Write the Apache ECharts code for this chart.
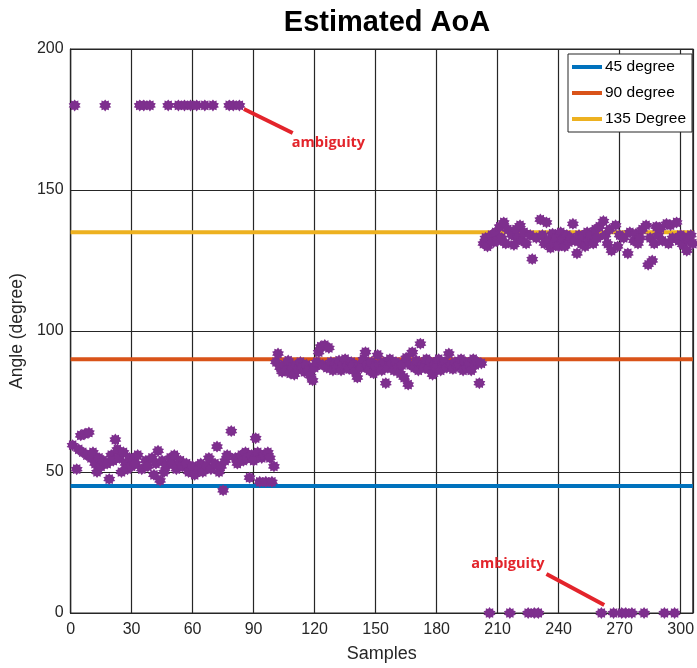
<!DOCTYPE html>
<html>
<head>
<meta charset="utf-8">
<script src="https://cdn.jsdelivr.net/npm/echarts@6/dist/echarts.min.js"></script>
<style>html,body{margin:0;padding:0;background:#fff}#c{width:697px;height:668px}</style>
</head>
<body>
<div id="c"></div>
<script>
// ---- data ----
const xTicks = [0, 30, 60, 90, 120, 150, 180, 210, 240, 270, 300];
const yTicks = [0, 50, 100, 150, 200];
const refNames = ['45 degree', '90 degree', '135 Degree'];
const refValues = [45, 90, 135];
// segment 1: samples 1..100 (180 = ambiguity)
const seg1Start = 1;
const seg1Values = [59.5,180,51,58,63,57,63.5,56,64,55,57,53,50,55,52,54,180,53,47.5,56,
54,61.5,58,55,50,57,53,51,55,52,54,53,56,180,51,180,54,52,180,55,
49,53,57.5,47,54,50,52,180,55,53,56,51,180,54,52,180,53,50,180,52,
49,180,51,53,50,180,52,55,51,180,53,59,50,52,43.5,54,56,180,64.5,180,
55,53,180,56,54,57,55,48,56,54,62,57,46.5,55,56,46.5,57,55,46.5,52];
// segment 2: samples 101..202
const seg2Start = 101;
const seg2Values = [89,92,87,85.5,88,86,89.5,85,87,84.5,88,86.5,89,87,85.5,88,86,84,82.5,87,
89,92.5,94.5,88,95,87,94,89,86,88.5,87,89.5,86,88,90,87.5,86.5,89,88,85.5,
83.5,88,87,90,92.5,88,86,89,85,87.5,91.5,88,86,89,81.5,87,90,88.5,86,89,
87,85,88,83.5,90.5,81,88,92.5,87,89.5,86,95.5,88,87,90,86.5,89,84.5,88,87,
90,86,88.5,89,87,92,88,86.5,89,87.5,88,90,86,89,87,88.5,86,90,88,89,
81.5,88.5];
// segment 3: samples 203..306 (0 = ambiguity)
const seg3Start = 203;
const seg3Values = [131,133,130,0,134,131.5,135,132,137,133,138.5,131,136,0,134,130.5,136,133,137.5,132,
135,131,0,134,125.5,0,133,0,139.5,134,131,138.5,132,129.5,134.5,131,133,130,135,132.5,
130,134,131.5,133,138,132,127.5,134,131,133.5,130,135,132,134,131,136,133,137,0,139,
134,131,136,128.5,0,137.5,130,134,0,133,0,127.5,135,0,132,134.5,131,133,136,0,
137.5,123.5,133,125,131,137,134,136.5,132,0,138,131,137.5,133,0,138.5,132,134,130.5,133,
128.5,132,134,131];
// annotations (data coordinates)
const noteText = 'ambiguity';
const noteLabels = [[126.8, 166.7], [215, 17.4]];
const noteArrows = [[[85.2, 178.7], [109.2, 170.2]], [[234, 13.8], [262.4, 2.8]]];

// ---- build ----
function pts(start, vals) { return vals.map((v, i) => [start + i, v]); }
const scatterData = pts(seg1Start, seg1Values).concat(pts(seg2Start, seg2Values), pts(seg3Start, seg3Values));

// asterisk-like star symbol
function starPath(n, rIn) {
  let d = '';
  for (let i = 0; i < 2 * n; i++) {
    const r = i % 2 === 0 ? 1 : rIn;
    const a = Math.PI * i / n - Math.PI / 2;
    const x = (50 + 50 * r * Math.cos(a)).toFixed(2), y = (50 + 50 * r * Math.sin(a)).toFixed(2);
    d += (i === 0 ? 'M' : 'L') + x + ' ' + y + ' ';
  }
  return 'path://' + d + 'Z';
}

const xMax = 306;
const refColors = ['#0072BD', '#D95319', '#EDB120'];
const FONT = '"Liberation Sans", Arial, sans-serif';
const TXT = '#262626';

const series = refValues.map((v, i) => ({
  name: refNames[i], type: 'line', data: [[0, v], [xMax, v]],
  showSymbol: false, symbol: 'none', silent: true, z: 2,
  lineStyle: { color: refColors[i], width: 4 }, itemStyle: { color: refColors[i] }
}));
series.push({
  name: 'AoA', type: 'scatter', data: scatterData, z: 3,
  symbol: starPath(10, 0.72), symbolSize: 12,
  itemStyle: { color: '#7E2F8E', opacity: 1 }, silent: true,
  markLine: {
    silent: true, symbol: ['none', 'none'], animation: false,
    lineStyle: { color: '#E3242B', width: 4, type: 'solid' }, label: { show: false },
    data: noteArrows.map(a => [{ coord: a[0] }, { coord: a[1] }])
  },
  markPoint: {
    silent: true, animation: false, symbol: 'circle', symbolSize: 1,
    itemStyle: { color: 'rgba(0,0,0,0)' },
    label: { show: true, position: 'inside', formatter: noteText, color: '#E3242B',
      fontWeight: 'bold', fontSize: 14.5, fontFamily: '"Open Sans", sans-serif' },
    data: noteLabels.map(c => ({ coord: c }))
  }
});

const chart = echarts.init(document.getElementById('c'), null, { renderer: 'canvas' });
chart.setOption({
  animation: false,
  backgroundColor: '#fff',
  title: { text: 'Estimated AoA', left: 382, top: 3, textAlign: 'center',
    textStyle: { fontFamily: FONT, fontWeight: 'bold', fontSize: 29, color: '#000' } },
  grid: { left: 69, right: 2, top: 49, bottom: 55, show: true, borderColor: TXT, borderWidth: 1.2, backgroundColor: '#fff' },
  legend: {
    data: refNames, orient: 'vertical', left: 568, top: 54,
    icon: 'rect', itemWidth: 30, itemHeight: 4, itemGap: 8,
    padding: [4, 6, 4, 4], borderColor: TXT, borderWidth: 1, backgroundColor: '#fff',
    textStyle: { fontFamily: FONT, fontSize: 15.5, color: '#000', lineHeight: 18, padding: [0, 0, 0, -2] }
  },
  xAxis: {
    type: 'value', min: xTicks[0], max: xMax, interval: 30,
    name: 'Samples', nameLocation: 'middle', nameGap: 32,
    nameTextStyle: { fontFamily: FONT, fontSize: 18, color: TXT },
    axisLine: { show: true, lineStyle: { color: TXT, width: 1.2 } },
    axisTick: { show: false },
    axisLabel: { fontFamily: FONT, fontSize: 16, color: TXT, margin: 9, showMaxLabel: false },
    splitLine: { show: true, lineStyle: { color: TXT, width: 1.2 } }
  },
  yAxis: {
    type: 'value', min: yTicks[0], max: yTicks[yTicks.length - 1], interval: 50,
    name: 'Angle (degree)', nameLocation: 'middle', nameGap: 42,
    nameTextStyle: { fontFamily: FONT, fontSize: 17.5, color: TXT },
    axisLine: { show: true, lineStyle: { color: TXT, width: 1.2 } },
    axisTick: { show: false },
    axisLabel: { fontFamily: FONT, fontSize: 16, color: TXT, margin: 7 },
    splitLine: { show: true, lineStyle: { color: TXT, width: 1.2 } }
  },
  series: series
});
</script>
</body>
</html>
